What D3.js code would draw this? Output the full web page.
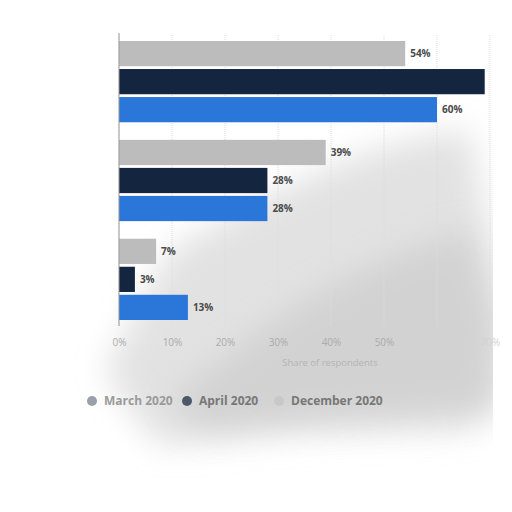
<!DOCTYPE html>
<html>
<head>
<meta charset="utf-8">
<script src="https://cdn.jsdelivr.net/npm/d3@7"></script>
<style>
  body { margin: 0; background: #fff; }
  text { font-family: "Open Sans", "DejaVu Sans", sans-serif; }
</style>
</head>
<body>
<svg width="512" height="512"></svg>
<script>
// groups (labels sit off the left edge in the reference)
var categories = ["Group A", "Group B", "Group C"];
var seriesNames = ["December 2020", "April 2020", "March 2020"];
var december = [54, 39, 7];
var april = [69, 28, 3];
var march = [60, 28, 13];
var xTicks = [0, 10, 20, 30, 40, 50, 60, 70];
var legendNames = ["March 2020", "April 2020", "December 2020"];

var COLORS = {"December 2020": "#bcbcbc", "April 2020": "#14263f", "March 2020": "#2b77d9"};
var LEGEND_DOT = {"March 2020": "#9aa0aa", "April 2020": "#4d5968", "December 2020": "#c8c8c8"};

var svg = d3.select("svg");
MARGIN = ({top: 41, left: 119});
var barsH = 279;
var gridH = 285;

var defs = svg.append("defs");
var f = defs.append("filter").attr("id", "smudge")
    .attr("x", "-30%").attr("y", "-30%").attr("width", "160%").attr("height", "160%");
f.append("feGaussianBlur").attr("stdDeviation", 16);
defs.append("clipPath").attr("id", "plotclip")
  .append("rect").attr("x", 0).attr("y", -10).attr("width", 366).attr("height", 400);
defs.append("clipPath").attr("id", "smudgeclip")
  .append("rect").attr("x", 0).attr("y", 0).attr("width", 493).attr("height", 512);

// blurry grey wash over the lower part of the picture
var wash = svg.append("g").attr("clip-path", "url(#smudgeclip)");
wash.append("path")
    .attr("d", "M170,250 C260,200 360,140 470,130 L500,300 L505,400 L470,430 L300,432 L160,445 L130,410 L105,370 Z")
    .attr("fill", "#d6d6d6")
    .attr("opacity", 0.7)
    .attr("filter", "url(#smudge)");
wash.append("path")
    .attr("d", "M260,330 C330,280 400,250 470,230 L500,330 L490,410 L330,420 L200,430 L170,400 Z")
    .attr("fill", "#c8c8c8")
    .attr("opacity", 0.6)
    .attr("filter", "url(#smudge)");

var g = svg.append("g")
    .attr("transform", "translate(" + MARGIN.left + "," + MARGIN.top + ")");

var x = d3.scaleLinear().domain([0, 70]).range([0, 371]);
var y0 = d3.scaleBand().domain(categories).range([0, barsH]).paddingInner(0.178).paddingOuter(0);
var y1 = d3.scaleBand().domain(seriesNames).range([0, y0.bandwidth()]).paddingInner(0.1);

// grid
g.selectAll(".grid").data(xTicks).enter().append("line")
    .attr("x1", d => x(d)).attr("x2", d => x(d))
    .attr("y1", -6).attr("y2", gridH)
    .attr("stroke", "#dcdcdc").attr("stroke-dasharray", "1,1");

var rows = categories.map((c, i) => ({
  cat: c,
  vals: [
    {s: "December 2020", v: december[i]},
    {s: "April 2020", v: april[i]},
    {s: "March 2020", v: march[i]}
  ]
}));

var grp = g.selectAll(".grp").data(rows).enter().append("g")
    .attr("transform", d => "translate(0," + y0(d.cat) + ")");

grp.selectAll("rect").data(d => d.vals).enter().append("rect")
    .attr("x", 0)
    .attr("y", d => y1(d.s))
    .attr("width", d => x(d.v))
    .attr("height", y1.bandwidth())
    .attr("fill", d => COLORS[d.s]);

grp.append("g").attr("clip-path", "url(#plotclip)")
  .selectAll("text").data(d => d.vals).enter().append("text")
    .attr("x", d => x(d.v) + 5)
    .attr("y", d => y1(d.s) + y1.bandwidth() / 2)
    .attr("dy", "0.35em")
    .attr("font-size", 10)
    .attr("font-weight", "bold")
    .attr("fill", "#4a4a4a")
    .text(d => d.v + "%");

// left axis line
g.append("line").attr("x1", 0).attr("x2", 0).attr("y1", -8).attr("y2", gridH)
    .attr("stroke", "#999");

// x axis
var xa = g.append("g")
    .attr("transform", "translate(0," + gridH + ")")
    .call(d3.axisBottom(x).tickValues(xTicks).tickFormat(d => d + "%").tickSize(0).tickPadding(13));
xa.select(".domain").remove();
xa.selectAll("text").attr("font-size", 10).attr("fill", (d) => d >= 60 ? "#d2d2d2" : "#ababab");

g.append("text")
    .attr("x", x(40) - 1).attr("y", gridH + 40)
    .attr("text-anchor", "middle")
    .attr("font-size", 9.5)
    .attr("fill", "#b4b4b4")
    .text("Share of respondents");

// legend
var legX = [92, 187, 279];
var leg = svg.append("g").selectAll("g").data(legendNames).enter().append("g")
    .attr("transform", (d, i) => "translate(" + legX[i] + ",401)");
leg.append("circle").attr("r", 5).attr("fill", d => LEGEND_DOT[d]);
leg.append("text").attr("x", 12).attr("dy", "0.35em")
    .attr("font-size", 12).attr("font-weight", "bold")
    .attr("fill", (d, i) => i == 0 ? "#9a9a9a" : "#777")
    .text(d => d);
</script>
</body>
</html>
